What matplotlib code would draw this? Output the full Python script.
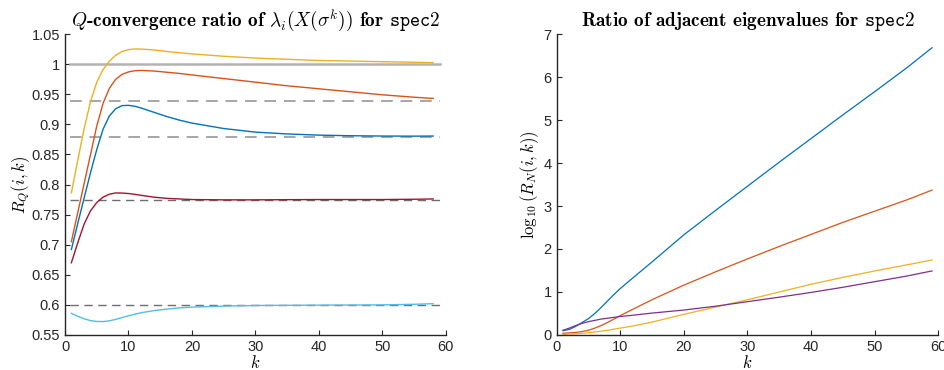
import numpy as np
import matplotlib
matplotlib.use("Agg")
from matplotlib import pyplot as plt
from matplotlib.ticker import FuncFormatter

plt.rcParams['mathtext.fontset'] = 'cm'
plt.rcParams['font.family'] = ['Liberation Sans', 'DejaVu Sans']

# couleurs MATLAB
c_blue = '#0072BD'
c_orange = '#D95319'
c_yellow = '#EDB120'
c_purple = '#7E2F8E'
c_lblue = '#4DBEEE'
c_dred = '#A2142F'

# ---- graphique de gauche : ratio de Q-convergence ----
k_left = [1, 2, 3, 4, 5, 6, 7, 8, 9, 10, 11, 12, 14, 16, 18, 20, 25, 30, 35, 40, 45, 50, 55, 58]
rq_yellow = [0.786, 0.840, 0.892, 0.937, 0.970, 0.991, 1.005, 1.015, 1.021, 1.024, 1.0252, 1.0250,
             1.0235, 1.021, 1.019, 1.017, 1.013, 1.010, 1.008, 1.006, 1.005, 1.004, 1.003, 1.0025]
rq_orange = [0.705, 0.753, 0.801, 0.849, 0.897, 0.935, 0.960, 0.975, 0.983, 0.987, 0.989, 0.9895,
             0.9885, 0.9865, 0.9845, 0.982, 0.976, 0.970, 0.964, 0.959, 0.954, 0.949, 0.945, 0.943]
rq_blue = [0.692, 0.735, 0.777, 0.819, 0.858, 0.892, 0.914, 0.926, 0.931, 0.9315, 0.930, 0.927,
           0.920, 0.913, 0.907, 0.902, 0.893, 0.887, 0.884, 0.882, 0.881, 0.8805, 0.8803, 0.8805]
rq_dred = [0.670, 0.703, 0.734, 0.756, 0.770, 0.779, 0.784, 0.786, 0.7858, 0.785, 0.7837, 0.782,
           0.779, 0.777, 0.776, 0.775, 0.7745, 0.7745, 0.7748, 0.775, 0.775, 0.775, 0.7755, 0.776]
rq_lblue = [0.586, 0.581, 0.577, 0.574, 0.5725, 0.5723, 0.5735, 0.576, 0.579, 0.582, 0.5845, 0.587,
            0.5905, 0.593, 0.595, 0.5963, 0.598, 0.599, 0.5993, 0.5996, 0.5998, 0.600, 0.601, 0.602]
limits = [0.938, 0.879, 0.774, 0.600]
limit_colors = ['#a6a6a6', '#a6a6a6', '#6e6e6e', '#6e6e6e']

# ---- graphique de droite : ratio des valeurs propres adjacentes ----
k_right = [1, 2, 3, 4, 5, 6, 7, 8, 9, 10, 12, 15, 20, 25, 30, 35, 40, 45, 50, 55, 59]
rn_blue = [0.10, 0.13, 0.20, 0.29, 0.38, 0.50, 0.64, 0.79, 0.94, 1.08, 1.33, 1.70, 2.33, 2.90, 3.46,
           4.02, 4.57, 5.12, 5.66, 6.21, 6.68]
rn_orange = [0.04, 0.05, 0.06, 0.08, 0.11, 0.16, 0.22, 0.29, 0.37, 0.45, 0.60, 0.82, 1.16, 1.47, 1.77,
             2.06, 2.34, 2.62, 2.88, 3.14, 3.37]
rn_yellow = [0.01, 0.02, 0.03, 0.04, 0.05, 0.07, 0.09, 0.11, 0.135, 0.16, 0.21, 0.30, 0.48, 0.65, 0.82,
             1.00, 1.18, 1.34, 1.49, 1.63, 1.745]
rn_purple = [0.11, 0.16, 0.22, 0.27, 0.31, 0.34, 0.37, 0.39, 0.41, 0.43, 0.46, 0.51, 0.58, 0.67, 0.775,
             0.88, 0.99, 1.11, 1.24, 1.37, 1.49]


def style_axes(ax):
    for s in ['top', 'right']:
        ax.spines[s].set_visible(False)
    for s in ['left', 'bottom']:
        ax.spines[s].set_color('#262626')
        ax.spines[s].set_linewidth(1.0)
    ax.tick_params(direction='in', length=3.5, width=0.8, colors='#262626', labelsize=10.5)
    ax.yaxis.set_major_formatter(FuncFormatter(lambda v, p: '{:g}'.format(round(v, 4))))


fig = plt.figure(figsize=(9.45, 3.7), dpi=100)
ax1 = fig.add_axes([0.0688, 0.0946, 0.403, 0.8135])
ax2 = fig.add_axes([0.589, 0.0946, 0.404, 0.8135])

# gauche
ax1.plot([0.8, 59], [1, 1], color='#b3b3b3', lw=1.8)
for lim, col in zip(limits, limit_colors):
    lw = 1.4 if col == '#a6a6a6' else 1.0
    ax1.plot([0.8, 59], [lim, lim], color=col, lw=lw, ls=(0, (6, 4)))
ax1.plot(k_left, rq_blue, color=c_blue, lw=1.0)
ax1.plot(k_left, rq_orange, color=c_orange, lw=1.0)
ax1.plot(k_left, rq_yellow, color=c_yellow, lw=1.0)
ax1.plot(k_left, rq_dred, color=c_dred, lw=1.0)
ax1.plot(k_left, rq_lblue, color=c_lblue, lw=1.0)
ax1.set_xlim(0, 60)
ax1.set_ylim(0.55, 1.05)
ax1.set_yticks(np.arange(0.55, 1.051, 0.05))
ax1.set_xticks(np.arange(0, 61, 10))
style_axes(ax1)
ax1.set_xlabel(r'$k$', fontsize=12, labelpad=0)
ax1.set_ylabel(r'$R_Q(i,k)$', fontsize=12, labelpad=0)
ax1.set_title(r'$Q$-convergence ratio of $\lambda_i(X(\sigma^k))$ for $\mathtt{spec2}$',
              fontfamily='cmb10', fontsize=13.8, pad=6)

# droite
ax2.plot(k_right, rn_blue, color=c_blue, lw=0.9)
ax2.plot(k_right, rn_orange, color=c_orange, lw=0.9)
ax2.plot(k_right, rn_yellow, color=c_yellow, lw=0.9)
ax2.plot(k_right, rn_purple, color=c_purple, lw=0.9)
ax2.set_xlim(0, 60)
ax2.set_ylim(0, 7)
ax2.set_xticks(np.arange(0, 61, 10))
style_axes(ax2)
ax2.set_xlabel(r'$k$', fontsize=12, labelpad=0)
ax2.set_ylabel(r'$\log_{10}(R_N(i,k))$', fontsize=12, labelpad=2)
ax2.set_title(r'Ratio of adjacent eigenvalues for $\mathtt{spec2}$',
              fontfamily='cmb10', fontsize=13.8, pad=6)

fig.savefig('out.png', dpi=100)
